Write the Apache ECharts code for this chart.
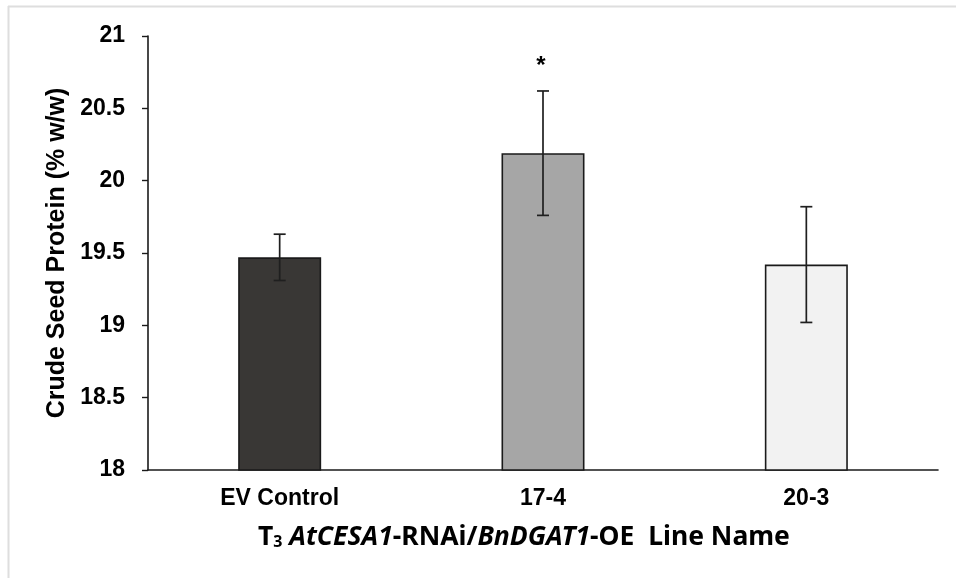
<!DOCTYPE html>
<html>
<head>
<meta charset="utf-8">
<script src="https://cdn.jsdelivr.net/npm/echarts@6/dist/echarts.min.js"></script>
<style>
  html, body { margin: 0; padding: 0; background: #ffffff; }
  #chart { width: 956px; height: 578px; }
</style>
</head>
<body>
<div id="chart"></div>
<script>
// Seed protein by transgenic line
const lineNames = ['EV Control', '17-4', '20-3'];
const proteinMean = [19.47, 20.19, 19.42];
const proteinErr = [0.16, 0.43, 0.40];
const significance = ['', '*', ''];
const yTicks = { min: 18, max: 21, step: 0.5 };

const barFills = ['#393735', '#a6a6a6', '#f2f2f2'];

const chart = echarts.init(document.getElementById('chart'), null, { renderer: 'canvas' });

const boldSans = '"Liberation Sans", Arial, sans-serif';
const titleFont = '"Noto Sans", "Open Sans", sans-serif';

chart.setOption({
  animation: false,
  backgroundColor: '#ffffff',
  grid: { left: 148, right: 18, top: 36, bottom: 108, containLabel: false },
  xAxis: {
    type: 'category',
    data: lineNames,
    axisLine: { lineStyle: { color: '#1a1a1a', width: 1.6 } },
    axisTick: { show: false },
    axisLabel: {
      color: '#000', fontFamily: boldSans, fontWeight: 700, fontSize: 23, margin: 17
    }
  },
  yAxis: {
    type: 'value',
    min: yTicks.min,
    max: yTicks.max,
    interval: yTicks.step,
    name: 'Crude Seed Protein (% w/w)',
    nameLocation: 'middle',
    nameGap: 75,
    nameTextStyle: { color: '#000', fontFamily: boldSans, fontWeight: 700, fontSize: 25 },
    splitLine: { show: false },
    axisLine: { show: true, lineStyle: { color: '#1a1a1a', width: 1.6 } },
    axisTick: { show: true, inside: false, length: 6, lineStyle: { color: '#1a1a1a', width: 1.4 } },
    axisLabel: {
      color: '#000', fontFamily: boldSans, fontWeight: 700, fontSize: 23, margin: 23
    }
  },
  series: [
    {
      type: 'bar',
      barWidth: 83,
      data: proteinMean.map((v, i) => ({
        value: v,
        itemStyle: { color: barFills[i], borderColor: '#1a1a1a', borderWidth: 1.6 }
      }))
    },
    {
      type: 'custom',
      z: 10,
      data: proteinMean.map((v, i) => [i, v, proteinErr[i]]),
      renderItem: function (params, api) {
        const i = api.value(0);
        const mean = api.value(1);
        const err = api.value(2);
        const hi = api.coord([i, mean + err]);
        const lo = api.coord([i, mean - err]);
        const cap = 6;
        const stroke = { stroke: '#1f1f1f', lineWidth: 1.7 };
        const children = [
          { type: 'line', shape: { x1: hi[0], y1: hi[1], x2: lo[0], y2: lo[1] }, style: stroke },
          { type: 'line', shape: { x1: hi[0] - cap, y1: hi[1], x2: hi[0] + cap, y2: hi[1] }, style: stroke },
          { type: 'line', shape: { x1: lo[0] - cap, y1: lo[1], x2: lo[0] + cap, y2: lo[1] }, style: stroke }
        ];
        const mark = significance[params.dataIndex];
        if (mark) {
          children.push({
            type: 'text',
            style: {
              x: hi[0] - 2, y: hi[1] - 25, text: mark,
              fill: '#000', font: 'bold 24px ' + boldSans,
              align: 'center', verticalAlign: 'middle'
            }
          });
        }
        return { type: 'group', children: children };
      }
    }
  ],
  graphic: [
    { type: 'line', shape: { x1: 8, y1: 6.5, x2: 956, y2: 6.5 }, style: { stroke: '#dedede', lineWidth: 2 } },
    { type: 'line', shape: { x1: 8.5, y1: 6, x2: 8.5, y2: 578 }, style: { stroke: '#dedede', lineWidth: 2 } },
    {
      type: 'text',
      left: 258,
      top: 524,
      style: {
        text: '{n|T}{s|3}{n| }{i|AtCESA1}{n|-RNAi/}{i|BnDGAT1}{n|-OE  Line Name}',
        rich: {
          n: { fontFamily: titleFont, fontWeight: 700, fontSize: 26.5, fill: '#000' },
          i: { fontFamily: titleFont, fontWeight: 700, fontStyle: 'italic', fontSize: 26.5, fill: '#000' },
          s: { fontFamily: titleFont, fontWeight: 700, fontSize: 16, fill: '#000', padding: [9, 0, 0, 0] }
        }
      }
    }
  ]
});
</script>
</body>
</html>
